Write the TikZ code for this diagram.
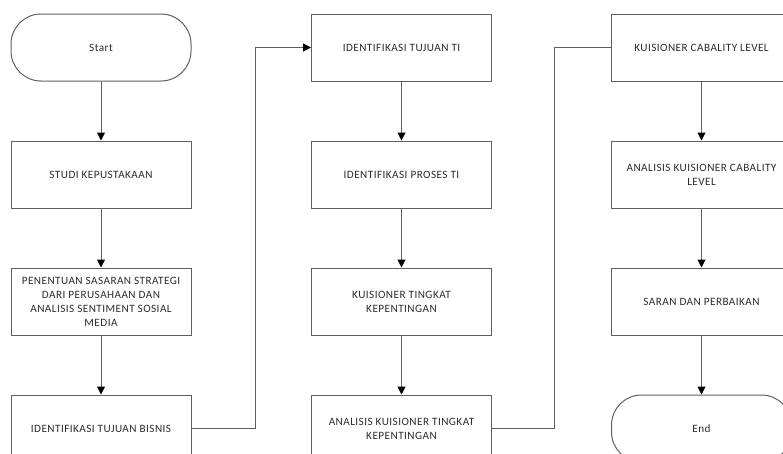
\documentclass[tikz,border=0pt]{standalone}
\usepackage{fontspec}
\setmainfont{Carlito}[LetterSpace=4]
\usetikzlibrary{positioning,arrows.meta}
\definecolor{garisabu}{HTML}{5F5F5F}
\definecolor{teksabu}{HTML}{2B2B2B}

\begin{document}
\begin{tikzpicture}[x=1pt, y=-1pt, node distance=59pt, font=\fontsize{11.2}{14}\selectfont,
    kotak/.style={draw=garisabu, line width=1pt, text=teksabu, align=center, minimum width=180pt, minimum height=67pt, inner sep=2pt},
    terminal/.style={kotak, rounded corners=30pt},
    panah/.style={draw=garisabu, line width=1pt, -{Triangle[length=8pt, width=8pt, color=black]}},
    garis/.style={draw=garisabu, line width=1pt}]
        \clip (0,0) rectangle (783,453);
        % kolom kiri
        \node[terminal] (start) at (101,47.5) {Start};
        \node[kotak, below=of start] (studi) {STUDI KEPUSTAKAAN};
        \node[kotak, below=of studi] (sasaran) {PENENTUAN SASARAN STRATEGI\\DARI PERUSAHAAN DAN\\ANALISIS SENTIMENT SOSIAL\\MEDIA};
        \node[kotak, below=of sasaran] (bisnis) {IDENTIFIKASI TUJUAN BISNIS};
        % kolom tengah
        \node[kotak] (tujuanti) at (401.5,47.5) {IDENTIFIKASI TUJUAN TI};
        \node[kotak, below=of tujuanti] (prosesti) {IDENTIFIKASI PROSES TI};
        \node[kotak, below=of prosesti] (kuisioner) {KUISIONER TINGKAT\\KEPENTINGAN};
        \node[kotak, below=of kuisioner] (analisis) {ANALISIS KUISIONER TINGKAT\\KEPENTINGAN};
        % kolom kanan
        \node[kotak] (cabality) at (701.5,47.5) {KUISIONER CABALITY LEVEL};
        \node[kotak, below=of cabality] (anacab) {ANALISIS KUISIONER CABALITY\\LEVEL};
        \node[kotak, below=of anacab] (saran) {SARAN DAN PERBAIKAN};
        \node[terminal, below=of saran] (end) {End};
        \foreach \a/\b in {start/studi,studi/sasaran,sasaran/bisnis,tujuanti/prosesti,prosesti/kuisioner,kuisioner/analisis,cabality/anacab,anacab/saran,saran/end}
            \draw[panah] (\a) -- (\b);
        \draw[panah] (bisnis.east) -- ++(64,0) |- (tujuanti.west);
        \draw[garis] (analisis.east) -- ++(62,0) |- (cabality.west);
\end{tikzpicture}
\end{document}
